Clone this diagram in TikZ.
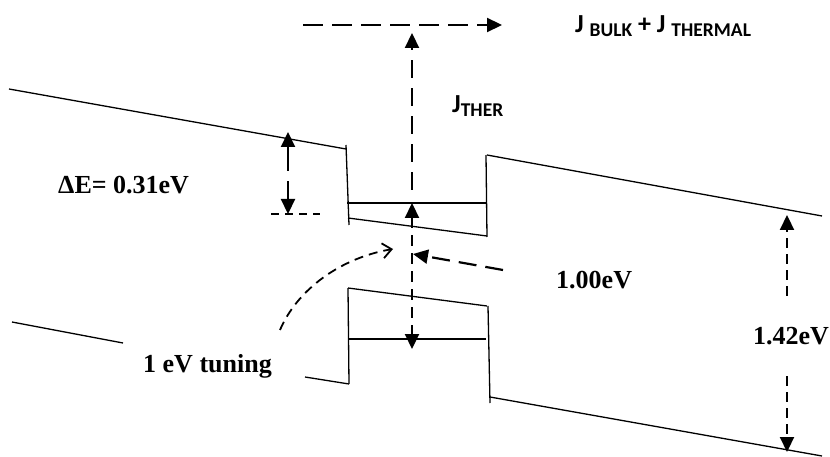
\documentclass[tikz,border=0pt]{standalone}
\usepackage{fontspec}
\setmainfont{Liberation Serif}
\newfontfamily\calfont{Carlito}
\usetikzlibrary{arrows.meta}
\tikzset{
  band/.style={line width=1.3pt},
  refline/.style={line width=1.3pt, dash pattern=on 8pt off 6pt},
  flow/.style={-{Triangle[length=15pt,width=14pt]}, line width=2.2pt,
    dash pattern=on 20pt off 9pt},
  span/.style={{Triangle[length=15pt,width=14pt]}-{Triangle[length=15pt,width=14pt]},
    line width=2.2pt, dash pattern=on 11pt off 7pt},
  halfspan/.style={-{Triangle[length=15pt,width=14pt]}, line width=2.2pt,
    dash pattern=on 10pt off 6pt},
  tuning/.style={-{Straight Barb[length=9pt,width=15pt]}, line width=1.8pt,
    dash pattern=on 9pt off 6pt},
  value/.style={font=\bfseries\fontsize{26}{26}\selectfont, inner sep=0pt},
  current/.style={font=\calfont\bfseries\fontsize{26}{26}\selectfont, inner sep=0pt,
    anchor=base west},
}
\newcommand{\jsub}[1]{\raisebox{-4pt}{\fontsize{19.5}{19.5}\selectfont #1}}

\begin{document}
\begin{tikzpicture}[x=1pt, y=-1pt]
\useasboundingbox (0,0) rectangle (830,457);

%% ---- band edges ----------------------------------------------------------
% conduction band, well and valence band, in pixel units
\foreach \a/\b in
    {{9,89}/{346,149}, {346,145}/{349,225}, {347,203}/{486,203},
     {348,218}/{487,236}, {486,155}/{487,237}, {487,155}/{822,216},
     {12,322}/{123,343}, {305,377}/{349,384}, {348,288}/{349,384},
     {348,288}/{487,306}, {348,339}/{486,339}, {488,306}/{490,403},
     {490,397}/{822,456}}
  \draw[band] (\a) -- (\b);

%% ---- currents ------------------------------------------------------------
\coordinate (fs) at (303,25);
\coordinate (fe) at (502,25);
\draw[flow] (fs) -- (fe);
\node[current] (jtot) at (575,33) {J \jsub{BULK} + J \jsub{THERMAL}};

\coordinate (thfoot) at (412,190);
\coordinate (thtip) at (412,33);
\draw[flow, dash pattern=on 18pt off 10pt] (thfoot) -- (thtip);
\node[current] (jther) at (452,113) {J\jsub{THER}};

%% ---- offsets -------------------------------------------------------------
\coordinate (detop) at (288,132);
\coordinate (debot) at (288,214);
\coordinate (dl) at (271,214);
\coordinate (dr) at (320,214);
\draw[refline] (dl) -- (dr);
\draw[span, dash pattern=on 25pt off 10pt] (detop) -- (debot);
\node[value, anchor=base west] (de) at (58,194) {ΔE= 0.31eV};

% well transition
\coordinate (wtop) at (412,203);
\coordinate (wbot) at (412,349);
\draw[span] (wtop) -- (wbot);
\node[value, anchor=base west] (l100) at (556,288) {1.00eV};
\coordinate (ptail) at (503,270);
\coordinate (ptip) at (413,254);
\draw[flow, dash pattern=on 18pt off 9pt] (ptail) -- (ptip);

% tuning
\coordinate (tfoot) at (280,330);
\coordinate (ttip) at (393,249);
\draw[tuning] (tfoot) .. controls (297,290) and (340,258) .. (ttip);
\node[value, anchor=base west] (tune) at (143,372) {1 eV tuning};

% bulk gap
\coordinate (gtop) at (787,215);
\coordinate (gbot) at (787,452);
\node[value, minimum height=80pt] (l142) at (791,336) {1.42eV};
\draw[halfspan] (l142.north -| gtop) -- (gtop);
\draw[halfspan] (l142.south -| gbot) -- (gbot);

\end{tikzpicture}
\end{document}
